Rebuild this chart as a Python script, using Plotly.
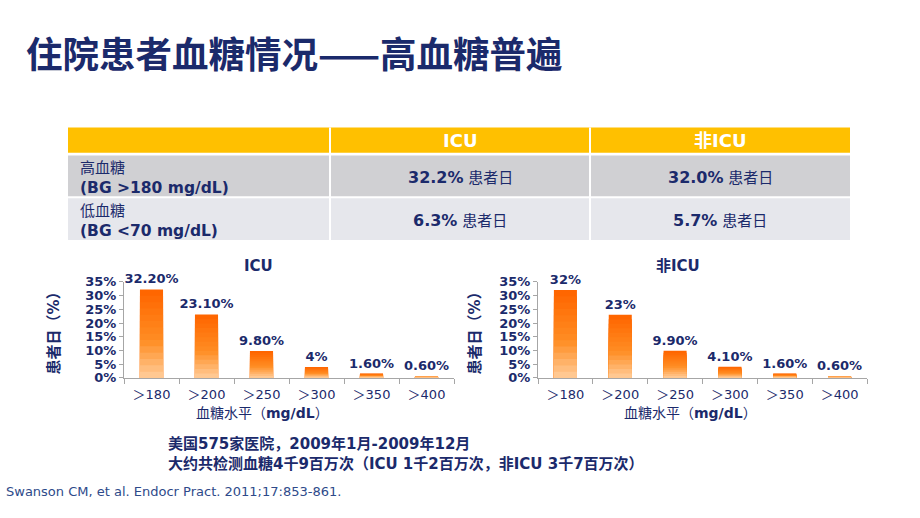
import plotly.graph_objects as go

W, H = 920, 518
NAVY = "#1B2A6B"
FONT = "DejaVu Sans, Noto Sans CJK SC"

# ---------------- data ----------------
title_text = "住院患者血糖情况——高血糖普遍"

table_header = ["", "ICU", "非ICU"]
row_names = ["高血糖", "低血糖"]
row_criteria = ["(BG >180 mg/dL)", "(BG &lt;70 mg/dL)"]
icu_pct = ["32.2%", "6.3%"]
nonicu_pct = ["32.0%", "5.7%"]
unit_text = "患者日"

categories = ["＞180", "＞200", "＞250", "＞300", "＞350", "＞400"]
icu_values = [32.2, 23.1, 9.8, 4.0, 1.6, 0.6]
icu_labels = ["32.20%", "23.10%", "9.80%", "4%", "1.60%", "0.60%"]
nonicu_values = [32.0, 23.0, 9.9, 4.1, 1.6, 0.6]
nonicu_labels = ["32%", "23%", "9.90%", "4.10%", "1.60%", "0.60%"]
y_ticks = [0, 5, 10, 15, 20, 25, 30, 35]

chart_titles = ["ICU", "非ICU"]
x_title = "血糖水平（<b>mg/dL</b>）"
y_title = "<b>患者日（%）</b>"

note_lines = [
    "<b>美国575家医院，2009年1月-2009年12月</b>",
    "<b>大约共检测血糖4千9百万次（ICU 1千2百万次，非ICU 3千7百万次）</b>",
]
reference = "Swanson CM, et al. Endocr Pract. 2011;17:853-861."


def px(x):
    return x / W


def py(y):
    return 1 - y / H


def lerp(c1, c2, t):
    a = [int(c1[i:i + 2], 16) for i in (1, 3, 5)]
    b = [int(c2[i:i + 2], 16) for i in (1, 3, 5)]
    return "#%02X%02X%02X" % tuple(round(a[k] + (b[k] - a[k]) * t) for k in range(3))


def grad_color(f):
    # f=1 top, f=0 bottom
    top, mid, bot = "#FF6600", "#FF8E24", "#FFD3A6"
    if f >= 0.45:
        return lerp(mid, top, (f - 0.45) / 0.55)
    return lerp(bot, mid, f / 0.45)


fig = go.Figure()

N = 14
for idx, (vals, labs) in enumerate([(icu_values, icu_labels), (nonicu_values, nonicu_labels)]):
    xa = "x" if idx == 0 else "x2"
    ya = "y" if idx == 0 else "y2"
    for k in range(N):
        frac = 1 - k / N
        tr = dict(
            x=categories,
            y=[v * frac for v in vals],
            xaxis=xa, yaxis=ya,
            marker=dict(color=grad_color(frac), line=dict(width=0)),
            width=0.42,
            hoverinfo="skip",
            showlegend=False,
        )
        if k == 0:
            tr.update(
                text=labs,
                textposition="outside",
                textfont=dict(family=FONT, size=13, color=NAVY, weight="bold"),
                constraintext="none",
                cliponaxis=False,
            )
        fig.add_trace(go.Bar(**tr))


def ann(x, y, text, size, color=NAVY, xanchor="center", family=FONT, **kw):
    d = dict(x=px(x), y=py(y), xref="paper", yref="paper", text=text,
             showarrow=False, xanchor=xanchor, yanchor="middle",
             font=dict(family=family, size=size, color=color))
    d.update(kw)
    return d


# ---------------- table ----------------
shapes = []
annotations = []
col_edges = [68, 330, 590, 850]
row_edges = [(124, 150), (153, 195), (197, 240)]
row_fills = ["#FFC000", "#D0D0D3", "#E6E7EC"]
for (y0, y1), fill in zip(row_edges, row_fills):
    shapes.append(dict(type="rect", xref="paper", yref="paper",
                       x0=px(col_edges[0]), x1=px(col_edges[-1]), y0=py(y1), y1=py(y0),
                       fillcolor=fill, line=dict(width=0), layer="below"))
for xe in col_edges[1:-1]:
    shapes.append(dict(type="line", xref="paper", yref="paper",
                       x0=px(xe), x1=px(xe), y0=py(240), y1=py(124),
                       line=dict(color="white", width=2)))

col_centers = [(col_edges[i] + col_edges[i + 1]) / 2 for i in range(3)]
for i in (1, 2):
    annotations.append(ann(col_centers[i], 137, "<b>%s</b>" % table_header[i], 18, color="white"))
label_y = [176, 220]
for r in range(2):
    annotations.append(ann(78, label_y[r], "%s<br><b><span style='font-size:15.5px'>%s</span></b>"
                           % (row_names[r], row_criteria[r]), 15,
                           xanchor="left", align="left"))
    for ci, vals in ((1, icu_pct), (2, nonicu_pct)):
        annotations.append(ann(col_centers[ci], label_y[r],
                               "<b><span style='font-size:16px'>%s</span></b> %s" % (vals[r], unit_text),
                               15))

# ---------------- title ----------------
t = ann(24, 47, title_text, 36.5, xanchor="left", family="Noto Sans CJK SC")
t["font"]["weight"] = "bold"
annotations.append(t)

# ---------------- chart annotations ----------------
chart_title_x = [258, 678]
ytitle_x = [54, 475]
xtitle_x = [262, 690]
for i in range(2):
    annotations.append(ann(chart_title_x[i], 267, "<b>%s</b>" % chart_titles[i], 15))
    annotations.append(ann(ytitle_x[i], 332, y_title, 15, textangle=-90))
    annotations.append(ann(xtitle_x[i], 418, x_title, 14))

annotations.append(ann(166, 460, "<br>".join(note_lines), 15, xanchor="left", align="left"))
annotations.append(ann(4, 499, reference, 13, color="#2E4A8A", xanchor="left"))

AX = "#A6A6A6"
xcommon = dict(type="category", showline=True, linecolor=AX, linewidth=1,
               ticks="outside", tickson="boundaries", ticklen=5, tickcolor=AX,
               ticklabelstandoff=4,
               tickfont=dict(family=FONT, size=13, color=NAVY), showgrid=False,
               zeroline=False, fixedrange=True)
ycommon = dict(range=[0, 35], tickvals=y_ticks, ticktext=["%d%%" % v for v in y_ticks],
               showline=True, linecolor=AX, linewidth=1, ticks="outside", ticklen=4,
               tickcolor=AX, tickfont=dict(family=FONT, size=13, color=NAVY, weight="bold"),
               showgrid=False, zeroline=False, fixedrange=True)

fig.update_layout(
    width=W, height=H,
    margin=dict(l=0, r=0, t=0, b=0),
    paper_bgcolor="white", plot_bgcolor="white",
    barmode="overlay",
    xaxis=dict(domain=[px(124), px(454)], anchor="y", **xcommon),
    yaxis=dict(domain=[py(382), py(283)], anchor="x", **ycommon),
    xaxis2=dict(domain=[px(538), px(867)], anchor="y2", **xcommon),
    yaxis2=dict(domain=[py(382), py(283)], anchor="x2", **ycommon),
    shapes=shapes,
    annotations=annotations,
    font=dict(family=FONT, color=NAVY),
)

fig.write_html(
    "out.html",
    config={"displayModeBar": False},
    post_script="document.body.style.margin='0px';document.body.style.overflow='hidden';",
)
